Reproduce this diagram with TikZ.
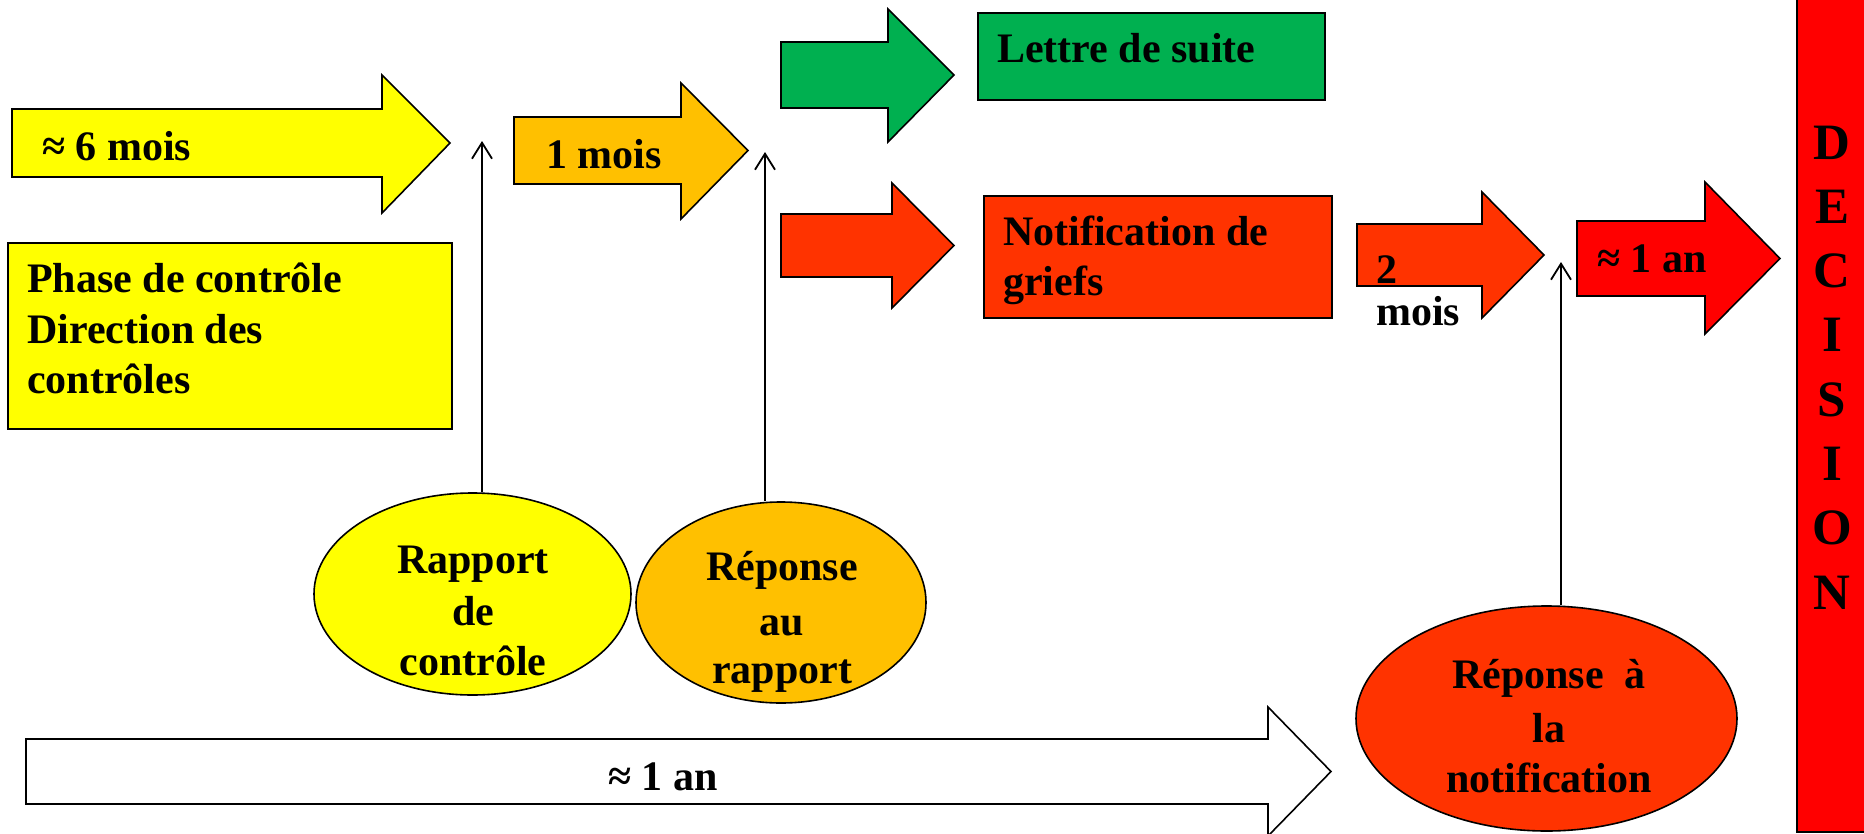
\documentclass[tikz,border=0pt]{standalone}
\usepackage{fontspec}
\setmainfont{Liberation Serif}
\usetikzlibrary{shapes.geometric,arrows.meta}
\definecolor{yel}{HTML}{FFFF00}
\definecolor{org}{HTML}{FFC000}
\definecolor{grn}{HTML}{00B050}
\definecolor{rorg}{HTML}{FF3300}
\definecolor{rred}{HTML}{FF0000}
\newcommand\fatarr[8]{%
  \filldraw[fill=#1, shapeline] (#2,#3) -- (#5,#3) -- (#5,#6) -- (#8,{(#3+#4)/2}) -- (#5,#7) -- (#5,#4) -- (#2,#4) -- cycle;}
\begin{document}
\begin{tikzpicture}[x=1pt,y=-1pt,
  shapeline/.style={draw=black, line width=1.6pt, line join=miter},
  rectbox/.style={shapeline, rectangle, inner sep=0pt, anchor=north west},
  ellbox/.style={shapeline, ellipse, inner sep=0pt},
  txt/.style={font=\fontsize{42}{50}\selectfont\bfseries, inner sep=0pt, anchor=base west},
  ctxt/.style={txt, anchor=base},
  dtxt/.style={font=\fontsize{51}{60}\selectfont\bfseries, inner sep=0pt, anchor=base},
  conn/.style={draw=black, line width=1.8pt, -{Straight Barb[length=16pt,width=20pt,line width=1.8pt]}}]
\useasboundingbox (0,0) rectangle (1864,833);
\fill[white] (0,0) rectangle (1864,833);

% fat arrows
\fatarr{yel}{12}{109}{177}{382}{75}{213}{450}
\fatarr{org}{514}{117}{184}{681}{83}{219}{748}
\fatarr{grn}{781}{42}{108}{888}{9}{142}{954}
\fatarr{rorg}{781}{214}{277}{892}{183}{308}{954}
\fatarr{rorg}{1357}{224}{286}{1482}{192}{318}{1544}
\fatarr{rred}{1577}{221}{296}{1705}{182}{334}{1780}
\fatarr{white}{26}{739}{804}{1268}{707}{836}{1331}

% boxes
\node[rectbox, fill=yel, minimum width=444pt, minimum height=186pt] (phase) at (7,242) {};
\node[rectbox, fill=grn, minimum width=347pt, minimum height=87pt] (lettre) at (977,12) {};
\node[rectbox, fill=rorg, minimum width=348pt, minimum height=122pt] (notif) at (983,195) {};
\node[rectbox, fill=rred, minimum width=90pt, minimum height=841pt] (dec) at (1796,-10) {};

% ellipses
\node[ellbox, fill=yel, minimum width=317pt, minimum height=202pt] (e1) at (472.5,594) {};
\node[ellbox, fill=org, minimum width=290pt, minimum height=201pt] (e2) at (781,602.5) {};
\node[ellbox, fill=rorg, minimum width=381pt, minimum height=225pt] (e3) at (1546.5,718.5) {};

% connectors
\coordinate (t1) at (482,141);
\coordinate (t2) at (765,152);
\coordinate (t3) at (1561,262);
\draw[conn] (t1 |- e1.north) -- (t1);
\draw[conn] (t2 |- e2.north) -- (t2);
\draw[conn] (t3 |- e3.north) -- (t3);

% texts
\node[txt] (l6m) at (42,160) {≈ 6 mois};
\node[txt] (l1m) at (546,168) {1 mois};
\node[txt] (ph1) at (27,292) {Phase de contrôle};
\node[txt] (ph2) at (27,343) {Direction des};
\node[txt] (ph3) at (27,393) {contrôles};
\node[txt] (lt) at (997,62) {Lettre de suite};
\node[txt] (nt1) at (1003,245) {Notification de};
\node[txt] (nt2) at (1003,295) {griefs};
\node[txt] (d2a) at (1376,283) {2};
\node[txt] (d2b) at (1376,325) {mois};
\node[txt] (l1an) at (1597,272) {≈ 1 an};
\node[ctxt] (w1an) at (663,790) {≈ 1 an};
\node[ctxt] (r1) at (473,573) {Rapport};
\node[ctxt] (r2) at (473,625) {de};
\node[ctxt] (r3) at (473,675) {contrôle};
\node[ctxt] (q1) at (782,580) {Réponse};
\node[ctxt] (q2) at (782,635) {au};
\node[ctxt] (q3) at (782,683) {rapport};
\node[ctxt] (n1) at (1549,688) {Réponse\ \ à};
\node[ctxt] (n2) at (1549,742) {la};
\node[ctxt] (n3) at (1549,792) {notification};
\foreach \l [count=\i] in {D,E,C,I,S,I,O,N}
  \node[dtxt] (dl\i) at (1832,{159+(\i-1)*64.3}) {\l};
\end{tikzpicture}
\end{document}
